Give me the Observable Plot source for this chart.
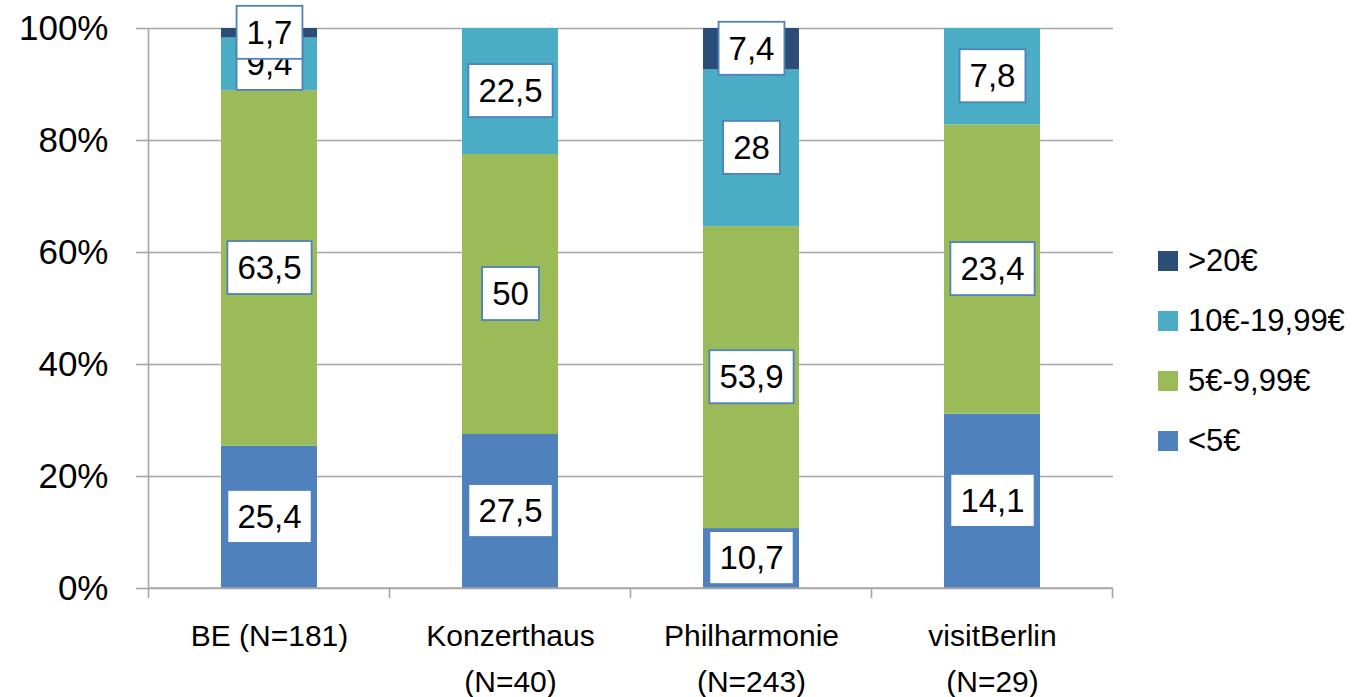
<!DOCTYPE html>
<html><head><meta charset="utf-8">
<script src="https://cdn.jsdelivr.net/npm/d3@7"></script>
<script src="https://cdn.jsdelivr.net/npm/@observablehq/plot@0.6"></script>
<style>
body{margin:0;background:#fff;font-family:"Liberation Sans",Arial,sans-serif;}
#wrap{position:relative;width:1364px;height:697px;overflow:hidden;}
#legend{position:absolute;left:1158px;top:231px;font-size:31px;color:#000;}
#legend .row{height:60px;display:flex;align-items:center;white-space:nowrap;}
#legend .sw{width:20px;height:20px;margin-right:10px;flex:none;}
</style></head><body><div id="wrap"><div id="legend"></div></div>
<script>
const groups = ["BE (N=181)", "Konzerthaus\n(N=40)", "Philharmonie\n(N=243)", "visitBerlin\n(N=29)"];
const classes = ["<5€", "5€-9,99€", "10€-19,99€", ">20€"];
const under5 = [25.4, 27.5, 10.7, 14.1];
const from5to10 = [63.5, 50, 53.9, 23.4];
const from10to20 = [9.4, 22.5, 28, 7.8];
const over20 = [1.7, null, 7.4, null];
const yTicks = [0, 0.2, 0.4, 0.6, 0.8, 1];
const colors = ["#4F81BD", "#9BBB59", "#4BACC6", "#2C4D75"];

const series = [under5, from5to10, from10to20, over20];
const data = [];
groups.forEach((g, i) => {
  series.forEach((s, j) => {
    if (s[i] != null) data.push({group: g, cls: classes[j], value: s[i]});
  });
});
const fmt = v => String(v).replace(".", ",");
const stack = {x: "group", y: "value", z: "cls", order: classes, offset: "normalize"};
const gridColor = "#A6A6A6";

const chart = Plot.plot({
  width: 1364, height: 697,
  marginLeft: 148, marginRight: 251, marginTop: 28, marginBottom: 109,
  style: {fontFamily: "Liberation Sans, Arial, sans-serif", color: "#000", background: "#fff", overflow: "visible"},
  x: {domain: groups, paddingInner: 0.6, paddingOuter: 0.3, label: null},
  y: {domain: [0, 1], label: null},
  color: {domain: classes, range: colors},
  marks: [
    Plot.gridY(yTicks, {stroke: gridColor, strokeOpacity: 1, strokeWidth: 1.6}),
    Plot.barY(data, Plot.stackY({...stack, fill: "cls"})),
    Plot.text(data, Plot.stackY({...stack, text: d => fmt(d.value), fontSize: 33, fill: "#000"})),
    Plot.axisY(yTicks, {tickFormat: d => Math.round(d * 100) + "%", tickSize: 12, tickPadding: 28, fontSize: 35, stroke: gridColor, strokeWidth: 1.6, label: null}),
    Plot.axisX({tickSize: 0, tickPadding: 24, fontSize: 30, lineHeight: 1.55, label: null})
  ]
});
document.getElementById("wrap").prepend(chart);

// label boxes behind each value label (text mark group)
const svg = d3.select(chart);
svg.selectAll('g[aria-label="text"] > text').each(function() {
  const b = this.getBBox();
  const padX = 10, h = 53;
  const cy = b.y + b.height / 2;
  const t = this.getAttribute("transform");
  const r = d3.select(this.parentNode).insert("rect", () => this)
    .attr("x", b.x - padX).attr("y", cy - h / 2)
    .attr("width", b.width + 2 * padX).attr("height", h)
    .attr("fill", "#fff").attr("stroke", "#4F81BD").attr("stroke-width", 1.8);
  if (t) r.attr("transform", t);
});

// axis lines and category boundary ticks, from Plot's own scales
const xs = chart.scale("x"), ys = chart.scale("y");
const y0 = ys.apply(0), y1 = ys.apply(1);
const gap = (xs.step - xs.bandwidth) / 2;
const bounds = groups.map(g => xs.apply(g) - gap).concat([xs.apply(groups[groups.length - 1]) + xs.bandwidth + gap]);
const ax = svg.append("g").attr("stroke", gridColor).attr("stroke-width", 1.6);
ax.append("line").attr("x1", bounds[0]).attr("x2", bounds[0]).attr("y1", y1).attr("y2", y0);
ax.append("line").attr("x1", bounds[0]).attr("x2", bounds[bounds.length - 1]).attr("y1", y0).attr("y2", y0);
bounds.forEach(b => ax.append("line").attr("x1", b).attr("x2", b).attr("y1", y0).attr("y2", y0 + 10));

// legend (top entry = top of stack)
const leg = d3.select("#legend");
classes.slice().reverse().forEach(c => {
  const r = leg.append("div").attr("class", "row");
  r.append("div").attr("class", "sw").style("background", colors[classes.indexOf(c)]);
  r.append("span").text(c);
});
</script>
</body></html>
